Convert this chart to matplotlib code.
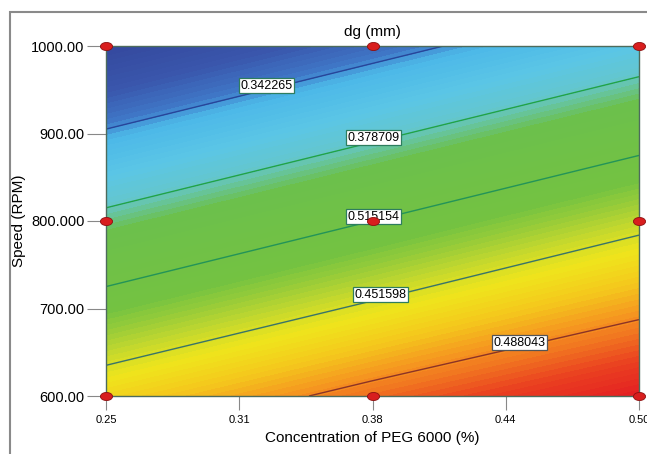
import numpy as np
import matplotlib
matplotlib.use("Agg")
import matplotlib.pyplot as plt
from matplotlib.colors import LinearSegmentedColormap
from matplotlib.markers import MarkerStyle
from matplotlib.transforms import Affine2D, offset_copy
from matplotlib.patches import Rectangle

plt.rcParams['font.family'] = ['Liberation Sans', 'DejaVu Sans']

# ---- data ----
conc = [0.25, 0.375, 0.5]                 # Concentration of PEG 6000 (%)
speed = [600, 800, 1000]                  # Speed (RPM)
dg_600 = [0.4658, 0.4950, 0.5210]
dg_800 = [0.3848, 0.4152, 0.4455]
dg_1000 = [0.3038, 0.3342, 0.3645]

levels = [0.342265, 0.378709, 0.415154, 0.451598, 0.488043]
level_labels = ['0.342265', '0.378709', '0.515154', '0.451598', '0.488043']

design_x = [0.25, 0.375, 0.5, 0.25, 0.375, 0.5, 0.25, 0.375, 0.5]
design_y = [1000, 1000, 1000, 800, 800, 800, 600, 600, 600]

xticks = [0.25, 0.3125, 0.375, 0.4375, 0.5]
xtick_labels = ['0.25', '0.31', '0.38', '0.44', '0.50']
yticks = [600, 700, 800, 900, 1000]
ytick_labels = ['600.00', '700.00', '800.000', '900.00', '1000.00']

# ---- figure ----
fig = plt.figure(figsize=(6.47, 4.54), dpi=100)
ax = fig.add_axes([106/647, 1-396/454, 533/647, 350/454])

cmap = LinearSegmentedColormap.from_list('de', [
    (0.00, '#34489d'),
    (0.10, '#3a57ad'),
    (0.165, '#3f78c8'),
    (0.20, '#4cb8e8'),
    (0.28, '#5bc6e6'),
    (0.34, '#64c6cc'),
    (0.40, '#6cc04c'),
    (0.57, '#74c241'),
    (0.65, '#bcd630'),
    (0.71, '#efe51c'),
    (0.77, '#f4cc1c'),
    (0.84, '#f59420'),
    (0.93, '#ea4220'),
    (1.00, '#e41e22'),
])

X, Y = np.meshgrid(conc, speed)
Z = np.array([dg_600, dg_800, dg_1000])
ax.contourf(X, Y, Z, levels=np.linspace(Z.min(), Z.max(), 90), cmap=cmap,
            antialiased=False)

line_colors = ['#27459a', '#22a346', '#239458', '#3a7468', '#8c3326']
cs = ax.contour(X, Y, Z, levels=levels, colors=line_colors, linewidths=1.0)

label_pos = [(0.3241, 960), (0.3748, 898), (0.3748, 806), (0.378, 717), (0.4442, 654)]
fmt = {lv: lb for lv, lb in zip(levels, level_labels)}
texts = ax.clabel(cs, levels=levels, fmt=fmt, inline=False, manual=label_pos,
                  fontsize=9, colors='black')
edge_cols = ['#2e7d5e', '#2e7d5e', '#2e7d5e', '#2e7d5e', '#555555']
up = offset_copy(ax.transData, fig=fig, x=0, y=4, units='dots')
for t in texts:
    t.set_rotation(0)
    idx = level_labels.index(t.get_text()) if t.get_text() in level_labels else 0
    t.set_transform(up)
    t.set_bbox(dict(boxstyle='square,pad=0.12', fc='white', ec=edge_cols[idx], lw=0.9))
    t.set_zorder(6)

ms = MarkerStyle('o', transform=Affine2D().scale(1.5, 1.0))
ax.scatter(design_x, design_y, marker=ms, s=34, c='#d81e1e', edgecolors='#8c1010',
           linewidths=0.6, zorder=8, clip_on=False)

ax.set_xlim(0.25, 0.5)
ax.set_ylim(600, 1000)
ax.set_xticks(xticks)
ax.set_xticklabels(xtick_labels, fontsize=8)
ax.set_yticks(yticks)
ax.set_yticklabels(ytick_labels, fontsize=10.5)
ax.tick_params(axis='y', length=14, color='#888888', pad=1.5)
ax.tick_params(axis='x', length=10, color='#888888', pad=4)
for sp in ax.spines.values():
    sp.set_color('#4d6b5c')
    sp.set_linewidth(1.0)

ax.set_title('dg (mm)', fontsize=11, pad=7)
ax.set_xlabel('Concentration of PEG 6000 (%)', fontsize=11, labelpad=4)
ax.set_ylabel('Speed (RPM)', fontsize=11, labelpad=4)

fig.add_artist(Rectangle((10/647, -0.1), 2.0, 1 - 12/454 + 0.1,
                         transform=fig.transFigure, fill=False,
                         ec='#8a8a8a', lw=1.5))

fig.savefig('out.png', dpi=100)
